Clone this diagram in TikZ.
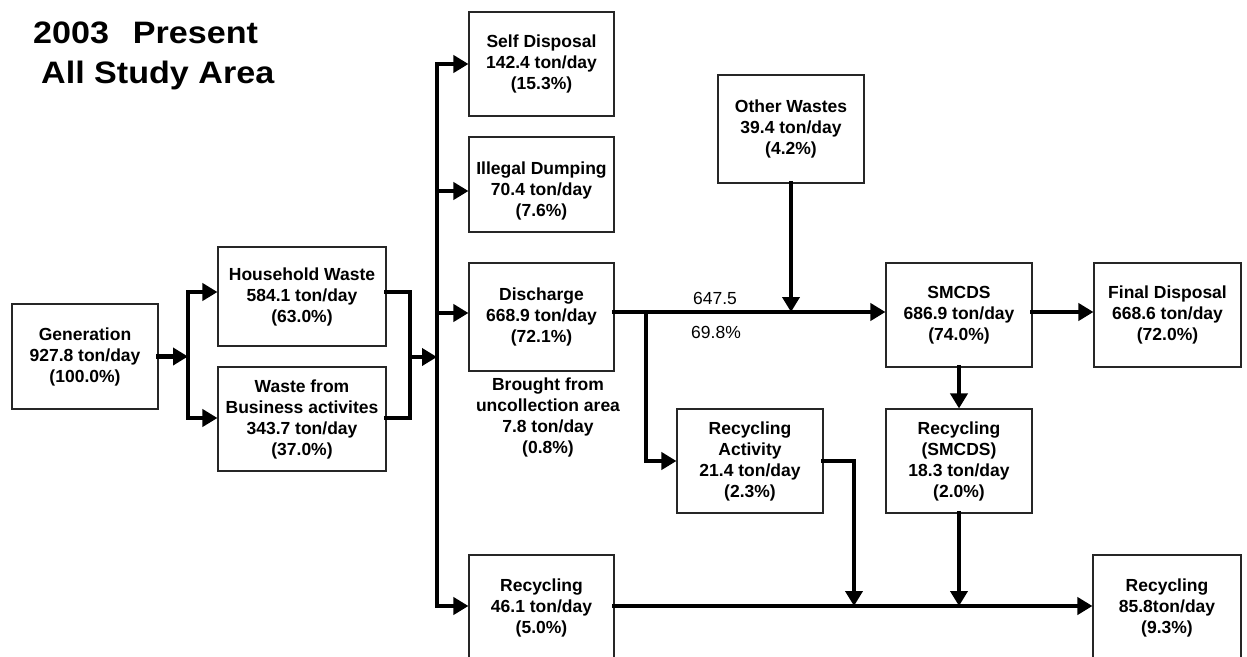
\documentclass[tikz,border=0pt]{standalone}
\usepackage{fontspec}
\setmainfont{Liberation Sans}
\usetikzlibrary{arrows.meta}
\begin{document}
\begin{tikzpicture}[x=1pt,y=-1pt,
  box/.style={draw=black!85, line width=1.1pt, inner sep=0pt, align=center,
    font=\fontsize{17.5}{21}\selectfont\bfseries},
  note/.style={inner sep=0pt, align=center, font=\fontsize{17.5}{21}\selectfont\bfseries},
  figure/.style={inner sep=0pt, font=\fontsize{17.5}{20}\selectfont},
  title/.style={inner sep=0pt, anchor=base west, font=\fontsize{31}{36}\selectfont\bfseries},
  line/.style={line width=4.2pt, line cap=rect, line join=miter},
  flow/.style={line, -{Triangle[length=15pt,width=17pt]}}]
\useasboundingbox (0,0) rectangle (1247,656);

% heading
\node[title] (t1) at (33,43) {\scalebox{1.1}[1]{2003\hspace*{0.7em}Present}};
\node[title] (t2) at (41,83) {\scalebox{1.1}[1]{All Study Area}};

% boxes
\node[box, minimum width=146pt, minimum height=105pt] (gen) at (85,356.5) {Generation\\927.8 ton/day\\(100.0\%)};
\node[box, minimum width=168pt, minimum height=99pt] (hh) at (302,296.5) {Household Waste\\584.1 ton/day\\(63.0\%)};
\node[box, minimum width=168pt, minimum height=104pt] (bw) at (302,419) {Waste from\\Business activites\\343.7 ton/day\\(37.0\%)};
\node[box, minimum width=145pt, minimum height=104pt] (sd) at (541.5,64) {Self Disposal\\142.4 ton/day\\(15.3\%)};
\node[box, minimum width=145pt, minimum height=95pt] (id) at (541.5,184.5) {};
\node[note] (idt) at (541.5,191) {Illegal Dumping\\70.4 ton/day\\(7.6\%)};
\node[box, minimum width=145pt, minimum height=108pt] (dis) at (541.5,317) {Discharge\\668.9 ton/day\\(72.1\%)};
\node[box, minimum width=145pt, minimum height=105pt] (rl) at (541.5,607.5) {Recycling\\46.1 ton/day\\(5.0\%)};
\node[box, minimum width=146pt, minimum height=108pt] (ow) at (791,129) {Other Wastes\\39.4 ton/day\\(4.2\%)};
\node[box, minimum width=146pt, minimum height=104pt] (sm) at (959,315) {SMCDS\\686.9 ton/day\\(74.0\%)};
\node[box, minimum width=147pt, minimum height=104pt] (fd) at (1167.5,315) {Final Disposal\\668.6 ton/day\\(72.0\%)};
\node[box, minimum width=146pt, minimum height=104pt] (ra) at (750,461) {Recycling\\Activity\\21.4 ton/day\\(2.3\%)};
\node[box, minimum width=146pt, minimum height=104pt] (rs) at (959,461) {Recycling\\(SMCDS)\\18.3 ton/day\\(2.0\%)};
\node[box, minimum width=148pt, minimum height=105pt] (rr) at (1167,607.5) {Recycling\\85.8ton/day\\(9.3\%)};

% free labels
\node[note] (br) at (548,417.5) {Brought from\\uncollection area\\7.8 ton/day\\(0.8\%)};
\node[figure] (v1) at (715,298) {647.5};
\node[figure] (v2) at (716,332) {69.8\%};

% junction points
\coordinate (j0) at (188,356.5);
\coordinate (j1) at (188,292);
\coordinate (j2) at (188,418);
\coordinate (m0) at (410,357);
\coordinate (m1) at (410,292);
\coordinate (m2) at (410,418);
\coordinate (tm) at (437,357);
\coordinate (tsd) at (437,64);
\coordinate (tid) at (437,191);
\coordinate (tdi) at (437,313);
\coordinate (tb) at (437,606);
\coordinate (d0) at (646,312);
\coordinate (c1) at (854,606);

% generation split
\draw[flow] (gen.east) -- (j0);
\draw[flow] (j0) -- (j1) -- (j1 -| hh.west);
\draw[flow] (j0) -- (j2) -- (j2 -| bw.west);

% merge into the distribution line
\draw[line] (m1 -| hh.east) -- (m1) -- (m2) -- (m2 -| bw.east);
\draw[flow] (m0) -- (tm);

% distribution line
\draw[flow] (tsd) -- (tb) -- (tb -| rl.west);
\draw[flow] (tsd) -- (tsd -| sd.west);
\draw[flow] (tid) -- (tid -| id.west);
\draw[flow] (tdi) -- (tdi -| dis.west);

% discharge towards SMCDS
\draw[flow] (d0 -| dis.east) -- (d0 -| sm.west);
\draw[flow] (ow.south) -- (ow.south |- d0);
\draw[flow] (d0) -- (d0 |- ra.west) -- (ra.west);
\draw[flow] (sm.east |- d0) -- (fd.west |- d0);
\draw[flow] (sm.south) -- (rs.north);

% recycling collection line
\draw[flow] (ra.east) -- (ra.east -| c1) -- (c1);
\draw[flow] (rs.south) -- (rs.south |- c1);
\draw[flow] (rl.east |- c1) -- (rr.west |- c1);
\end{tikzpicture}
\end{document}
